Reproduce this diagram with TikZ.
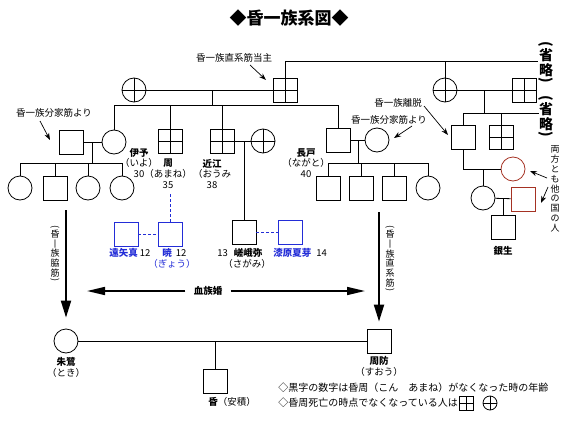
\documentclass[tikz,border=0pt]{standalone}
\usepackage{graphicx}
\usepackage{fontspec}
\setmainfont{Noto Sans CJK JP}
\usetikzlibrary{arrows.meta}
\definecolor{kinblue}{RGB}{35,45,215}
\definecolor{alienred}{RGB}{165,50,35}
\newcommand{\vlp}{\rotatebox[origin=c]{-90}{(}}
\newcommand{\vrp}{\rotatebox[origin=c]{-90}{)}}

\begin{document}
\begin{tikzpicture}[x=1pt, y=-1pt, line width=0.8pt,
    male/.style={draw, rectangle, minimum size=24pt, inner sep=0pt},
    female/.style={draw, circle, minimum size=24pt, inner sep=0pt},
    dead/.style={path picture={\draw[line width=0.8pt] (path picture bounding box.north) -- (path picture bounding box.south)
        (path picture bounding box.west) -- (path picture bounding box.east);}},
    kin/.style={draw=kinblue},
    alien/.style={draw=alienred},
    lbl/.style={font=\fontsize{9.5}{10.8}\selectfont, align=center, inner sep=0pt},
    vlbl/.style={font=\fontsize{9}{9.8}\selectfont, align=center, inner sep=0pt},
    omitlbl/.style={font=\fontsize{14}{15}\selectfont\bfseries, align=center, inner sep=0pt},
    note/.style={font=\fontsize{10}{12}\selectfont, anchor=west, inner sep=0pt},
    pointer/.style={-{Stealth[length=7pt,width=5pt]}, line width=0.7pt},
    lineage/.style={-{Triangle[length=17pt,width=10pt]}, line width=2pt},
    bloodline/.style={-{Triangle[length=18pt,width=8pt]}, line width=1.6pt},
    kindash/.style={kinblue, dash pattern=on 3pt off 2pt}]
  \useasboundingbox (0,0) rectangle (577,420);
  \node[font=\fontsize{17}{17}\selectfont\bfseries, inner sep=0pt] (title) at (289,18) {◆昏一族系図◆};

  %%% head of the main line and his wife
  \node[female, dead] (headW) at (134,90) {};
  \node[male, dead] (head) at (285,90) {};
  \draw (headW) -- (head);
  \node[lbl] (headLbl) at (234,58) {昏一族直系筋当主};
  \coordinate (headFrom) at (250,65);
  \coordinate (headTo) at (266,80);
  \draw[pointer] (headFrom) -- (headTo);

  %%% line to the right, cut off at (省略)
  \coordinate (omitTop) at (538,61);
  \coordinate (auntJ) at (445,61);
  \draw (head.north) |- (omitTop);
  \node[omitlbl] (omit1) at (546,63) {\vlp\\[-3.5pt]省\\略\\[-5.5pt]\vrp};
  \node[female, dead] (aunt) at (445,90) {};
  \node[male, dead] (auntH) at (524,90) {};
  \draw (auntJ) -- (aunt);
  \draw (aunt) -- (auntH);
  \coordinate (auntC) at (484,90);
  \coordinate (auntCJ) at (484,113);
  \draw (auntC) -- (auntCJ);
  \coordinate (cousinL) at (463,113);
  \coordinate (omitMid) at (539,113);
  \draw (cousinL) -- (omitMid);
  \node[omitlbl] (omit2) at (546,117) {\vlp\\[-3.5pt]省\\略\\[-5.5pt]\vrp};
  \node[male] (leaver) at (463,137) {};
  \node[male, dead] (leaverB) at (501,137) {};
  \coordinate (leaverBJ) at (501,113);
  \draw (cousinL) -- (leaver);
  \draw (leaverBJ) -- (leaverB);
  \node[lbl] (leaveLbl) at (398,103) {昏一族離脱};
  \coordinate (leaveFrom) at (424,106);
  \coordinate (leaveTo) at (448,135);
  \draw[pointer] (leaveFrom) -- (leaveTo);

  %%% the family that left, with people from another country
  \coordinate (leaverFoot) at (463,169);
  \node[female, alien] (alienW) at (513,169) {};
  \draw (leaver) -- (leaverFoot) -- (alienW);
  \coordinate (ginJ) at (483,169);
  \node[female] (ginM) at (483,198) {};
  \draw (ginJ) -- (ginM);
  \node[male, alien] (alienH) at (523,199) {};
  \draw (ginM) -- (alienH);
  \coordinate (ginJ2) at (503,198);
  \node[male] (ginsei) at (503,227) {};
  \draw (ginJ2) -- (ginsei);
  \node[lbl] (ginseiLbl) at (503,251) {\textbf{銀生}};
  \node[vlbl] (alienLbl) at (555,189) {両\\方\\と\\も\\他\\の\\国\\の\\人};
  \coordinate (alienFrom1) at (547,178);
  \coordinate (alienTo1) at (530,171);
  \coordinate (alienFrom2) at (548,187);
  \coordinate (alienTo2) at (541,203);
  \draw[pointer] (alienFrom1) -- (alienTo1);
  \draw[pointer] (alienFrom2) -- (alienTo2);

  %%% children of the head
  \coordinate (headJ) at (212,90);
  \coordinate (sibJ) at (212,105);
  \draw (headJ) -- (sibJ);
  \coordinate (sibL) at (114,105);
  \coordinate (sibR) at (338,105);
  \draw (sibL) -- (sibR);
  \node[female] (iyo) at (114,142) {};
  \node[male, dead] (amane) at (170,141) {};
  \node[male, dead] (oumi) at (222,141) {};
  \node[male] (nagato) at (338,140) {};
  \foreach \n/\x in {iyo/114, amane/170, oumi/222, nagato/338}{
    \coordinate (\n J) at (\x,105);
    \draw (\n J) -- (\n);
  }
  \node[lbl] (iyoLbl) at (139,163) {\textbf{伊予}\\（いよ）\\30};
  \node[lbl] (amaneLbl) at (168,174) {\textbf{周}\\（あまね）\\35};
  \node[lbl] (oumiLbl) at (212,174) {\textbf{近江}\\（おうみ\\38};
  \node[lbl] (nagatoLbl) at (306,163) {\textbf{長戸}\\（ながと）\\40};

  %%% iyo's family
  \node[male] (iyoH) at (71,142) {};
  \draw (iyoH) -- (iyo);
  \node[lbl] (branchLbl1) at (54,113) {昏一族分家筋より};
  \coordinate (branchFrom1) at (40,121);
  \coordinate (branchTo1) at (50,140);
  \draw[pointer] (branchFrom1) -- (branchTo1);
  \coordinate (iyoJ) at (92,142);
  \coordinate (iyoJ2) at (92,163);
  \draw (iyoJ) -- (iyoJ2);
  \coordinate (iyoL) at (20,163);
  \coordinate (iyoR) at (122,163);
  \draw (iyoL) -- (iyoR);
  \foreach \x/\s [count=\i] in {20/female, 55/male, 88/female, 122/female}{
    \coordinate (iyoK\i) at (\x,163);
    \node[\s] (iyoC\i) at (\x,188) {};
    \draw (iyoK\i) -- (iyoC\i);
  }

  %%% amane's son
  \coordinate (amaneFoot) at (170,194);
  \node[male, kin] (gyou) at (170,234) {};
  \node[male, kin] (toyama) at (126,234) {};
  \draw[kindash] (amaneFoot) -- (gyou);
  \draw[kindash] (toyama) -- (gyou);
  \node[lbl, anchor=west] (toyamaLbl) at (109,253) {\textcolor{kinblue}{\textbf{遠矢真}}\hspace{2pt}12};
  \node[lbl, anchor=west] (gyouLbl) at (162,253) {\textcolor{kinblue}{\textbf{暁}}\hspace{4pt}12};
  \node[lbl, text=kinblue] (gyouRd) at (172,264) {（ぎょう）};

  %%% oumi's family
  \node[female, dead] (oumiH) at (263,141) {};
  \draw (oumi) -- (oumiH);
  \coordinate (oumiJ) at (244,141);
  \node[male] (sagami) at (244,232) {};
  \draw (oumiJ) -- (sagami);
  \node[male, kin] (natsume) at (290,232) {};
  \draw[kindash] (sagami) -- (natsume);
  \node[lbl, anchor=west] (sagamiLbl) at (217,253) {13\hspace{6pt}\textbf{嵯峨弥}};
  \node[lbl] (sagamiRd) at (247,264) {（さがみ）};
  \node[lbl, anchor=west] (natsumeLbl) at (273,253) {\textcolor{kinblue}{\textbf{漆原夏芽}}\hspace{5pt}14};

  %%% nagato's family
  \node[female] (nagatoW) at (377,140) {};
  \draw (nagato) -- (nagatoW);
  \node[lbl] (branchLbl2) at (389,120) {昏一族分家筋より};
  \coordinate (branchFrom2) at (412,126);
  \coordinate (branchTo2) at (394,138);
  \draw[pointer] (branchFrom2) -- (branchTo2);
  \coordinate (nagatoJ) at (358,140);
  \coordinate (nagatoJ2) at (358,163);
  \draw (nagatoJ) -- (nagatoJ2);
  \coordinate (nagatoL) at (328,163);
  \coordinate (nagatoR) at (428,163);
  \draw (nagatoL) -- (nagatoR);
  \foreach \x/\s [count=\i] in {328/male, 361/male, 394/male, 428/female}{
    \coordinate (nagatoK\i) at (\x,163);
    \node[\s] (nagatoC\i) at (\x,188) {};
    \draw (nagatoK\i) -- (nagatoC\i);
  }

  %%% the two lines meet
  \node[female] (toki) at (66,341) {};
  \node[male] (suou) at (379,341) {};
  \draw (toki) -- (suou);
  \node[lbl] (tokiLbl) at (66,367) {\textbf{朱鷺}\\（とき）};
  \node[lbl] (suouLbl) at (379,366.5) {\textbf{周防}\\（すおう）};
  \coordinate (heirJ) at (215,341);
  \node[male] (heir) at (215,381) {};
  \draw (heirJ) -- (heir);
  \node[lbl] (heirLbl) at (232,402) {\textbf{昏}（安積）};

  \coordinate (wakiTop) at (66,210);
  \draw[lineage, shorten >=11pt] (wakiTop) -- (toki);
  \node[vlbl] (wakiTxt) at (55,254) {\vlp\\[-2pt]昏\\丨\\族\\脇\\筋\\[-3.5pt]\vrp};
  \coordinate (chokuTop) at (379,212);
  \draw[lineage, shorten >=7pt] (chokuTop) -- (suou);
  \node[vlbl] (chokuTxt) at (390,259) {\vlp\\[-2pt]昏\\丨\\族\\直\\系\\筋\\[-3.5pt]\vrp};

  \node[lbl, inner xsep=8pt] (kekkon) at (208,291) {\textbf{血族婚}};
  \coordinate (kinL) at (87,291);
  \coordinate (kinR) at (365,291);
  \draw[bloodline] (kekkon) -- (kinL);
  \draw[bloodline] (kekkon) -- (kinR);

  %%% notes
  \node[note] (note1) at (278,388) {◇黒字の数字は昏周（こん　あまね）がなくなった時の年齢};
  \node[note] (note2) at (278,403) {◇昏周死亡の時点でなくなっている人は};
  \node[male, dead, minimum size=14pt] (keyM) at (466,403) {};
  \node[female, dead, minimum size=14pt] (keyF) at (490,403) {};
\end{tikzpicture}
\end{document}
